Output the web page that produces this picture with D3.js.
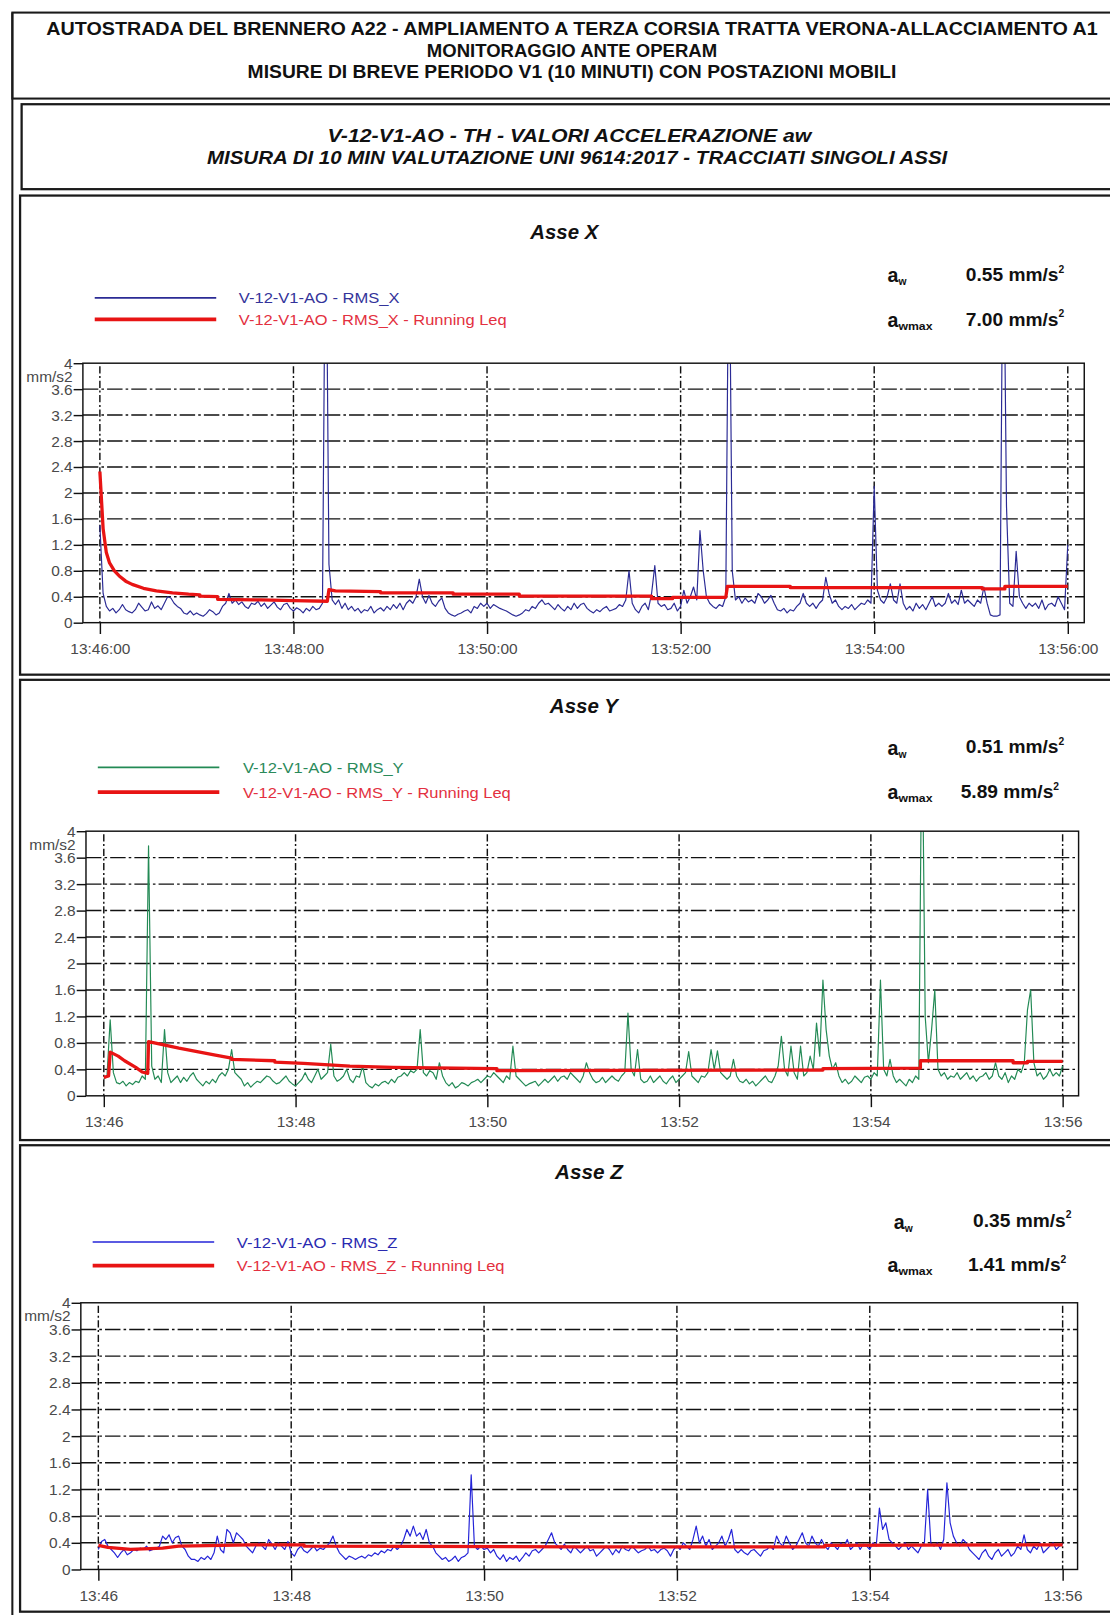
<!DOCTYPE html>
<html><head><meta charset="utf-8">
<script src="https://cdn.jsdelivr.net/npm/d3@7"></script>
<style>
body{margin:0;background:#fff}
svg{display:block}
text{font-family:"Liberation Sans",Arial,sans-serif}
.narrow{font-family:"Liberation Sans Narrow","Arial Narrow","Liberation Sans",sans-serif}
</style>
</head><body>
<svg id="c" width="1110" height="1615" viewBox="0 0 1078 1568"></svg>
<script>
// ---------------- DATA ----------------
const headerLines = [
  "AUTOSTRADA DEL BRENNERO A22 - AMPLIAMENTO A TERZA CORSIA TRATTA VERONA-ALLACCIAMENTO A1",
  "MONITORAGGIO ANTE OPERAM",
  "MISURE DI BREVE PERIODO V1 (10 MINUTI) CON POSTAZIONI MOBILI"
];
const subtitleLines = [
  "V-12-V1-AO - TH - VALORI ACCELERAZIONE aw",
  "MISURA DI 10 MIN  VALUTAZIONE UNI 9614:2017 - TRACCIATI SINGOLI ASSI"
];
const axisTitles = ["Asse X", "Asse Y", "Asse Z"];
const seriesNames = ["V-12-V1-AO - RMS_X", "V-12-V1-AO - RMS_Y", "V-12-V1-AO - RMS_Z"];
const leqNames = ["V-12-V1-AO - RMS_X - Running Leq", "V-12-V1-AO - RMS_Y - Running Leq", "V-12-V1-AO - RMS_Z - Running Leq"];
const awValues = ["0.55", "0.51", "0.35"];
const awMaxValues = ["7.00", "5.89", "1.41"];
const yTickValues = [0, 0.4, 0.8, 1.2, 1.6, 2, 2.4, 2.8, 3.2, 3.6, 4];
const xTickMinutes = [46, 48, 50, 52, 54, 56];
const sampleStepSeconds = 2;

// RMS X, one value every 2 s from 13:46:00 to 13:56:00
const rmsX = [
1.5,0.45,0.25,0.18,0.22,0.15,0.2,0.28,0.2,0.17,
0.15,0.2,0.3,0.24,0.18,0.2,0.32,0.22,0.26,0.2,
0.3,0.4,0.38,0.3,0.25,0.22,0.15,0.13,0.18,0.12,
0.15,0.12,0.1,0.14,0.2,0.17,0.12,0.15,0.25,0.3,
0.45,0.3,0.35,0.28,0.32,0.25,0.22,0.3,0.28,0.33,
0.25,0.3,0.22,0.27,0.32,0.24,0.2,0.28,0.3,0.22,
0.18,0.23,0.2,0.15,0.22,0.18,0.25,0.2,0.22,0.3,
7.0,0.9,0.35,0.28,0.35,0.22,0.3,0.2,0.25,0.18,
0.22,0.15,0.2,0.18,0.25,0.15,0.2,0.23,0.18,0.25,
0.2,0.28,0.22,0.3,0.2,0.3,0.35,0.3,0.4,0.67,
0.4,0.3,0.42,0.3,0.25,0.33,0.38,0.22,0.15,0.12,
0.1,0.13,0.15,0.18,0.2,0.15,0.25,0.22,0.3,0.25,
0.3,0.22,0.28,0.25,0.22,0.2,0.18,0.15,0.12,0.1,
0.12,0.15,0.2,0.18,0.25,0.22,0.3,0.35,0.28,0.3,
0.25,0.2,0.28,0.22,0.18,0.25,0.2,0.3,0.22,0.28,
0.3,0.22,0.18,0.15,0.2,0.17,0.22,0.25,0.18,0.2,
0.22,0.28,0.25,0.35,0.8,0.3,0.2,0.15,0.25,0.3,
0.2,0.45,0.88,0.3,0.25,0.28,0.2,0.22,0.3,0.18,
0.25,0.5,0.3,0.4,0.55,0.35,1.42,0.8,0.4,0.3,
0.25,0.22,0.28,0.25,0.4,6.5,0.8,0.35,0.4,0.3,
0.38,0.32,0.35,0.3,0.45,0.4,0.3,0.35,0.42,0.3,
0.2,0.18,0.22,0.15,0.2,0.18,0.25,0.3,0.45,0.3,
0.25,0.3,0.22,0.3,0.35,0.7,0.45,0.3,0.35,0.25,
0.2,0.25,0.22,0.28,0.2,0.25,0.3,0.28,0.35,0.3,
2.1,0.5,0.35,0.3,0.4,0.6,0.35,0.3,0.6,0.3,
0.2,0.25,0.18,0.3,0.22,0.28,0.2,0.3,0.4,0.25,
0.3,0.25,0.3,0.45,0.3,0.35,0.28,0.5,0.3,0.35,
0.3,0.25,0.35,0.3,0.55,0.3,0.12,0.1,0.1,0.12,
6.8,1.8,0.3,0.25,1.1,0.4,0.3,0.22,0.3,0.25,
0.3,0.22,0.35,0.2,0.28,0.3,0.25,0.4,0.3,0.2,
1.2];

const rmsY = [
0.25,0.3,1.15,0.35,0.2,0.18,0.22,0.15,0.2,0.17,
0.22,0.2,0.3,0.25,3.78,0.45,0.25,0.3,0.2,1.0,
0.35,0.2,0.25,0.3,0.2,0.28,0.22,0.3,0.35,0.25,
0.2,0.15,0.22,0.18,0.25,0.2,0.3,0.35,0.3,0.4,
0.7,0.35,0.3,0.25,0.15,0.2,0.13,0.18,0.22,0.2,
0.25,0.3,0.28,0.22,0.18,0.2,0.25,0.3,0.22,0.18,
0.15,0.2,0.25,0.35,0.25,0.2,0.3,0.4,0.25,0.3,
0.35,0.78,0.3,0.22,0.25,0.3,0.4,0.25,0.2,0.3,
0.28,0.45,0.2,0.15,0.12,0.18,0.15,0.2,0.22,0.18,
0.25,0.2,0.28,0.3,0.35,0.3,0.38,0.35,0.4,1.0,
0.35,0.3,0.38,0.35,0.25,0.5,0.3,0.2,0.15,0.2,
0.12,0.15,0.2,0.18,0.15,0.2,0.22,0.25,0.2,0.25,
0.3,0.28,0.35,0.3,0.25,0.2,0.3,0.25,0.75,0.3,
0.25,0.2,0.15,0.18,0.2,0.22,0.15,0.2,0.25,0.2,
0.25,0.3,0.22,0.28,0.3,0.25,0.35,0.3,0.25,0.2,
0.3,0.5,0.35,0.25,0.2,0.22,0.28,0.2,0.25,0.3,
0.25,0.22,0.3,0.35,1.25,0.4,0.3,0.7,0.25,0.2,
0.22,0.3,0.2,0.25,0.3,0.22,0.18,0.25,0.3,0.2,
0.25,0.3,0.35,0.67,0.3,0.25,0.2,0.3,0.28,0.35,
0.7,0.4,0.68,0.35,0.3,0.25,0.3,0.55,0.3,0.22,
0.2,0.25,0.18,0.22,0.15,0.2,0.25,0.3,0.22,0.2,
0.3,0.45,0.9,0.4,0.3,0.75,0.35,0.25,0.75,0.3,
0.35,0.6,0.4,1.1,0.6,1.75,1.0,0.6,0.4,0.5,
0.3,0.2,0.25,0.18,0.22,0.3,0.25,0.2,0.28,0.3,
0.25,0.35,0.3,1.75,0.4,0.3,0.55,0.3,0.2,0.25,
0.2,0.15,0.25,0.2,0.3,0.25,5.89,1.2,0.5,1.0,
1.6,0.4,0.3,0.35,0.25,0.3,0.28,0.35,0.25,0.3,
0.35,0.25,0.3,0.22,0.28,0.3,0.35,0.25,0.3,0.5,
0.3,0.25,0.35,0.2,0.3,0.25,0.4,0.35,0.5,1.3,
1.6,0.5,0.3,0.35,0.25,0.3,0.4,0.3,0.35,0.3,
0.45];

const rmsZ = [
0.3,0.42,0.45,0.35,0.3,0.25,0.18,0.25,0.3,0.22,
0.25,0.3,0.28,0.32,0.3,0.35,0.28,0.3,0.32,0.35,
0.5,0.45,0.52,0.4,0.48,0.5,0.35,0.3,0.2,0.15,
0.15,0.12,0.18,0.15,0.2,0.15,0.25,0.5,0.3,0.25,
0.6,0.55,0.4,0.55,0.5,0.45,0.35,0.3,0.25,0.35,
0.4,0.35,0.3,0.45,0.38,0.3,0.4,0.35,0.3,0.42,
0.25,0.2,0.3,0.35,0.28,0.25,0.3,0.35,0.28,0.32,
0.3,0.35,0.4,0.5,0.35,0.25,0.2,0.15,0.2,0.18,
0.15,0.18,0.2,0.17,0.22,0.2,0.25,0.22,0.28,0.25,
0.3,0.28,0.35,0.3,0.35,0.45,0.6,0.5,0.65,0.5,
0.55,0.45,0.6,0.4,0.35,0.25,0.2,0.15,0.18,0.12,
0.15,0.2,0.12,0.18,0.2,0.25,1.42,0.35,0.3,0.35,
0.3,0.32,0.25,0.3,0.2,0.15,0.22,0.12,0.18,0.15,
0.2,0.12,0.18,0.25,0.2,0.28,0.3,0.25,0.3,0.35,
0.45,0.55,0.4,0.35,0.3,0.38,0.3,0.25,0.35,0.3,
0.25,0.3,0.35,0.28,0.3,0.2,0.25,0.3,0.35,0.3,
0.22,0.3,0.25,0.35,0.3,0.28,0.35,0.3,0.25,0.28,
0.3,0.35,0.28,0.3,0.25,0.3,0.32,0.28,0.2,0.3,
0.35,0.3,0.4,0.35,0.3,0.45,0.65,0.4,0.5,0.35,
0.45,0.3,0.35,0.4,0.5,0.35,0.45,0.6,0.3,0.25,
0.3,0.25,0.22,0.28,0.3,0.25,0.2,0.28,0.3,0.35,
0.3,0.5,0.4,0.35,0.5,0.4,0.3,0.35,0.45,0.55,
0.4,0.35,0.5,0.4,0.35,0.45,0.35,0.3,0.4,0.35,
0.3,0.4,0.35,0.45,0.3,0.35,0.4,0.3,0.38,0.35,
0.3,0.4,0.35,0.92,0.6,0.7,0.45,0.4,0.35,0.3,
0.35,0.4,0.3,0.35,0.3,0.25,0.35,0.4,1.2,0.4,
0.35,0.4,0.3,0.45,1.3,0.7,0.5,0.4,0.35,0.45,
0.4,0.3,0.25,0.2,0.15,0.25,0.3,0.2,0.15,0.25,
0.3,0.2,0.25,0.3,0.2,0.25,0.35,0.3,0.52,0.3,
0.25,0.35,0.3,0.4,0.25,0.3,0.35,0.4,0.3,0.35,
0.38];

// Running Leq: seconds from 13:46:00 and value (mm/s2)
const leqXSeconds = [0,2,4,6,9,12,16,20,27,35,45,55,62,62,73,73,100,120,141,142,146,174,174,219,219,260,260,342,342,355,355,388,389,428,428,547,547,561,561,600];
const leqXValues  = [2.33,1.45,1.08,0.92,0.8,0.72,0.64,0.59,0.53,0.49,0.46,0.44,0.43,0.41,0.4,0.36,0.35,0.34,0.33,0.51,0.49,0.48,0.46,0.46,0.44,0.44,0.41,0.41,0.37,0.37,0.39,0.39,0.56,0.56,0.54,0.54,0.52,0.52,0.56,0.56];
const leqYSeconds = [0,3,4,9,13,20,24,27.5,28,47,69,80,80,107,107,125,154,181,246,246,450,450,511,511,569,569,578,578,600];
const leqYValues  = [0.28,0.3,0.66,0.6,0.53,0.43,0.36,0.34,0.82,0.72,0.62,0.57,0.55,0.53,0.51,0.49,0.45,0.43,0.41,0.38,0.39,0.41,0.42,0.53,0.53,0.5,0.5,0.52,0.52];
const leqZSeconds = [0,6,20,40,50,94,128,128,300,452,452,600];
const leqZValues  = [0.36,0.33,0.3,0.32,0.35,0.37,0.37,0.35,0.34,0.34,0.36,0.37];

// ---------------- LAYOUT ----------------
const svg = d3.select("#c");
const start = new Date(2000, 0, 1, 13, 46, 0);
const at = s => new Date(start.getTime() + s * 1000);

const ink = "#1a1a1a";
// page frame
svg.append("line").attr("x1",12).attr("x2",12).attr("y1",12).attr("y2",1600).attr("stroke",ink).attr("stroke-width",2);
svg.append("rect").attr("x",12).attr("y",12).attr("width",1100).attr("height",83.5).attr("fill","none").attr("stroke",ink).attr("stroke-width",2);
svg.append("rect").attr("x",21).attr("y",101).attr("width",1100).attr("height",82.5).attr("fill","none").attr("stroke",ink).attr("stroke-width",2.2);

// header text
const hdr = [[34,1021],[55,282],[76,630]];
headerLines.forEach((t,i)=>{
  svg.append("text").attr("class","narrow").attr("x",555.5).attr("y",hdr[i][0])
    .attr("text-anchor","middle").attr("font-size",18.5).attr("font-weight","bold")
    .attr("textLength",hdr[i][1]).attr("lengthAdjust","spacingAndGlyphs").attr("fill","#111").text(t);
});
const sub = [[318,137.5,470],[201,159.5,719]];
subtitleLines.forEach((t,i)=>{
  svg.append("text").attr("class","narrow").attr("x",sub[i][0]).attr("y",sub[i][1])
    .attr("font-size",18).attr("font-weight","bold").attr("font-style","italic")
    .attr("textLength",sub[i][2]).attr("lengthAdjust","spacingAndGlyphs").attr("fill","#111").text(t);
});

const panels = [
  {series:rmsX, leqS:leqXSeconds, leqV:leqXValues, color:"#2b2b95", textColor:"#33339a", fmt:"%H:%M:%S",
   box:[189.7,655], fl:80.5, fr:1053, x0:97, x1:1037, yt:352.5, yb:604.5,
   titleX:548, titleY:232, legX:[92,210], legY:[289,310], legTX:232,
   aX:[862,862], aY:[274,317], vX:[938,938], vY:[273,316]},
  {series:rmsY, leqS:leqYSeconds, leqV:leqYValues, color:"#238a55", textColor:"#2a8a5a", fmt:"%H:%M",
   box:[660,1107], fl:83.5, fr:1047.5, x0:100.8, x1:1032, yt:807, yb:1064,
   titleX:567, titleY:692, legX:[95,213], legY:[745,769], legTX:236,
   aX:[862,862], aY:[733,776], vX:[938,933], vY:[731,775]},
  {series:rmsZ, leqS:leqZSeconds, leqV:leqZValues, color:"#2424d8", textColor:"#2a2ab0", fmt:"%H:%M",
   box:[1112,1565], fl:78.5, fr:1046.5, x0:95.5, x1:1032, yt:1265, yb:1524,
   titleX:572, titleY:1145, legX:[90,208], legY:[1206,1229], legTX:230,
   aX:[868,862], aY:[1193,1235], vX:[945,940], vY:[1191,1234]}
];
const red = "#e81414";
const tickFont = 15;

panels.forEach((p,k)=>{
  const g = svg.append("g");
  g.append("rect").attr("x",19.5).attr("y",p.box[0]).attr("width",1100).attr("height",p.box[1]-p.box[0])
    .attr("fill","none").attr("stroke",ink).attr("stroke-width",2.2);

  const x = d3.scaleTime().domain([start, at(600)]).range([p.x0, p.x1]);
  const y = d3.scaleLinear().domain([0,4]).range([p.yb, p.yt]);

  // title
  g.append("text").attr("x",p.titleX).attr("y",p.titleY).attr("text-anchor","middle")
    .attr("font-size",19).attr("font-weight","bold").attr("font-style","italic")
    .attr("textLength",66).attr("lengthAdjust","spacingAndGlyphs").attr("fill","#111").text(axisTitles[k]);

  // legend
  g.append("line").attr("x1",p.legX[0]).attr("x2",p.legX[1]).attr("y1",p.legY[0]).attr("y2",p.legY[0])
    .attr("stroke",p.color).attr("stroke-width",1.6);
  g.append("line").attr("x1",p.legX[0]).attr("x2",p.legX[1]).attr("y1",p.legY[1]).attr("y2",p.legY[1])
    .attr("stroke",red).attr("stroke-width",3.6);
  g.append("text").attr("x",p.legTX).attr("y",p.legY[0]+5.5).attr("font-size",15)
    .attr("textLength",156).attr("lengthAdjust","spacingAndGlyphs").attr("fill",p.textColor).text(seriesNames[k]);
  g.append("text").attr("x",p.legTX).attr("y",p.legY[1]+5.5).attr("font-size",15)
    .attr("textLength",260).attr("lengthAdjust","spacingAndGlyphs").attr("fill","#e33040").text(leqNames[k]);

  // aw values
  const a1 = g.append("text").attr("x",p.aX[0]).attr("y",p.aY[0]).attr("font-size",19).attr("font-weight","bold").attr("fill","#111");
  a1.append("tspan").text("a");
  a1.append("tspan").attr("font-size",10).attr("dy",3).text("w");
  const a2 = g.append("text").attr("x",p.aX[1]).attr("y",p.aY[1]).attr("font-size",19).attr("font-weight","bold").attr("fill","#111");
  a2.append("tspan").text("a");
  a2.append("tspan").attr("font-size",10).attr("dy",3).attr("textLength",33).attr("lengthAdjust","spacingAndGlyphs").text("wmax");
  [[awValues[k],0],[awMaxValues[k],1]].forEach(([v,j])=>{
    const t = g.append("text").attr("x",p.vX[j]).attr("y",p.vY[j]).attr("font-size",18).attr("font-weight","bold").attr("fill","#111");
    t.append("tspan").attr("textLength",90).attr("lengthAdjust","spacingAndGlyphs").text(v+" mm/s");
    t.append("tspan").attr("font-size",10).attr("dy",-8).text("2");
  });

  // clip
  const cid = "clip"+k;
  svg.append("clipPath").attr("id",cid).append("rect")
    .attr("x",p.fl).attr("y",p.yt).attr("width",p.fr-p.fl).attr("height",p.yb-p.yt);

  // gridlines
  const gridY = yTickValues.filter(v=>v>0 && v<4);
  g.selectAll(null).data(gridY).enter().append("line")
    .attr("x1",p.fl).attr("x2",p.fr).attr("y1",d=>y(d)).attr("y2",d=>y(d))
    .attr("stroke","#111").attr("stroke-width",1.4).attr("stroke-dasharray","15,3,2.5,3");
  const xTimes = xTickMinutes.map(m=>new Date(2000,0,1,13,m,0));
  g.selectAll(null).data(xTimes).enter().append("line")
    .attr("x1",d=>x(d)).attr("x2",d=>x(d)).attr("y1",p.yt+3).attr("y2",p.yb)
    .attr("stroke","#111").attr("stroke-width",1.4).attr("stroke-dasharray","7,2.5,2,2.5");

  // series
  const line = d3.line().x((d,i)=>x(at(i*sampleStepSeconds))).y(d=>y(d));
  g.append("path").datum(p.series).attr("clip-path",`url(#${cid})`).attr("d",line)
    .attr("fill","none").attr("stroke",p.color).attr("stroke-width",1.15).attr("stroke-linejoin","round");
  const leq = d3.line().x(d=>x(at(d[0]))).y(d=>y(d[1]));
  g.append("path").datum(d3.zip(p.leqS,p.leqV)).attr("clip-path",`url(#${cid})`).attr("d",leq)
    .attr("fill","none").attr("stroke",red).attr("stroke-width",3.2).attr("stroke-linejoin","round");

  // frame
  g.append("rect").attr("x",p.fl).attr("y",p.yt).attr("width",p.fr-p.fl).attr("height",p.yb-p.yt)
    .attr("fill","none").attr("stroke","#111").attr("stroke-width",1.4);

  // axes
  const ya = d3.axisLeft(y).tickValues(yTickValues).tickFormat(d=>String(d)).tickSize(9).tickPadding(1);
  const yg = g.append("g").attr("transform",`translate(${p.fl},0)`).call(ya);
  yg.select(".domain").remove();
  yg.selectAll("line").attr("stroke","#111").attr("stroke-width",1.4);
  yg.selectAll("text").attr("font-size",tickFont).attr("fill","#4a4a4a").attr("font-family","Liberation Sans, Arial, sans-serif");
  g.append("text").attr("x",p.fl-10).attr("y",p.yt+18).attr("text-anchor","end").attr("font-size",tickFont)
    .attr("fill","#4a4a4a").text("mm/s2");

  const xa = d3.axisBottom(x).tickValues(xTimes).tickFormat(d3.timeFormat(p.fmt)).tickSize(11).tickPadding(9);
  const xg = g.append("g").attr("transform",`translate(0,${p.yb})`).call(xa);
  xg.select(".domain").remove();
  xg.selectAll("line").attr("stroke","#111").attr("stroke-width",1.4);
  xg.selectAll("text").attr("font-size",tickFont).attr("fill","#4a4a4a").attr("font-family","Liberation Sans, Arial, sans-serif");
});
</script>
</body></html>
